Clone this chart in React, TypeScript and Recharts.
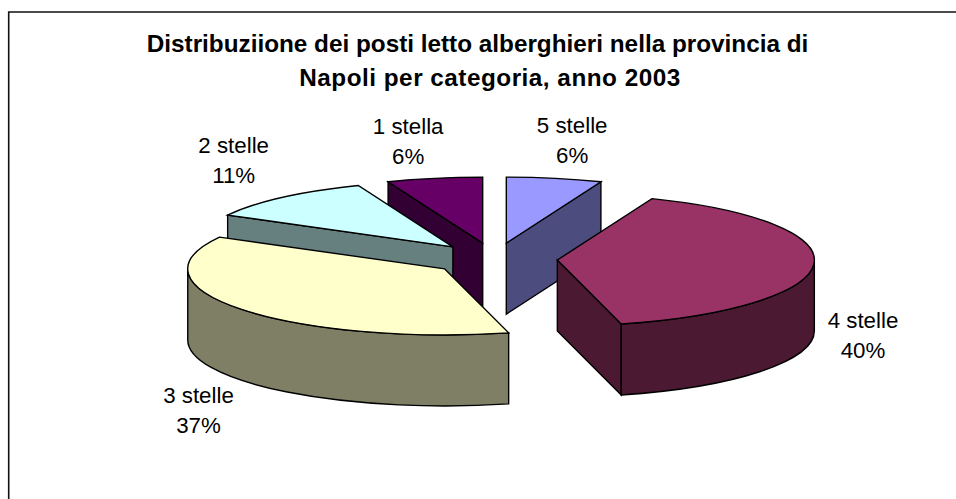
import React from "react";
import { PieChart, Pie } from "recharts";

const categories = ["5 stelle", "1 stella", "2 stelle", "3 stelle", "4 stelle"];
const shares = [6, 6, 11, 37, 40];
const titleLines = [
  "Distribuziione dei posti letto alberghieri nella provincia di",
  "Napoli per categoria, anno 2003",
];

const topColors: Record<string, string> = {
  "5 stelle": "#9999FF",
  "1 stella": "#660066",
  "2 stelle": "#CCFFFF",
  "3 stelle": "#FFFFCC",
  "4 stelle": "#993366",
};
const sideColors: Record<string, string> = {
  "5 stelle": "#4C4C7F",
  "1 stella": "#330033",
  "2 stelle": "#667F7F",
  "3 stelle": "#7F7F66",
  "4 stelle": "#4C1933",
};
// label centre relative to the pie centre
const labelOffsets: Record<string, [number, number]> = {
  "5 stelle": [77.7, -119],
  "1 stella": [-86.3, -118],
  "2 stelle": [-260.8, -99],
  "3 stelle": [-296, 151],
  "4 stelle": [368.5, 76],
};

const tableData = categories.map((name, i) => ({ name, value: shares[i] }));

const FONT = "'Liberation Sans', Arial, sans-serif";
const TILT = 66 / 257;
const EXPLODE = 0.245;
const DEPTH = 71;
const RAD = Math.PI / 180;
const PIE_CX = 494.5;
const PIE_CY = 259;

const Slice3D = (p: any) => {
  const rx: number = p.outerRadius;
  const ry = rx * TILT;
  const name: string = p.name ?? p.payload?.name;
  const span = p.endAngle - p.startAngle;
  const a = (((90 - p.endAngle) % 360) + 360) % 360;
  const b = a + span;
  const mid = (a + b) / 2;
  const ox = p.cx + EXPLODE * rx * Math.sin(mid * RAD);
  const oy = p.cy - EXPLODE * ry * Math.cos(mid * RAD);
  const pt = (t: number, d = 0) =>
    `${ox + rx * Math.sin(t * RAD)} ${oy - ry * Math.cos(t * RAD) + d}`;
  const arc = (t: number, sweep: number, large: number, d = 0) =>
    `A ${rx} ${ry} 0 ${large} ${sweep} ${pt(t, d)}`;
  const apex = `${ox} ${oy}`;
  const apexLow = `${ox} ${oy + DEPTH}`;
  const common = {
    stroke: "#000",
    strokeWidth: 1.4,
    strokeLinejoin: "miter" as const,
  };
  const side = sideColors[name];
  const t1 = Math.max(a, 90);
  const t2 = Math.min(b, 270);
  return (
    <g>
      {Math.sin(a * RAD) < 0 && (
        <path
          d={`M ${apex} L ${pt(a)} L ${pt(a, DEPTH)} L ${apexLow} Z`}
          fill={side}
          {...common}
        />
      )}
      {Math.sin(b * RAD) > 0 && (
        <path
          d={`M ${apex} L ${pt(b)} L ${pt(b, DEPTH)} L ${apexLow} Z`}
          fill={side}
          {...common}
        />
      )}
      {t1 < t2 && (
        <path
          d={`M ${pt(t1)} ${arc(t2, 1, 0)} L ${pt(t2, DEPTH)} ${arc(t1, 0, 0, DEPTH)} Z`}
          fill={side}
          {...common}
        />
      )}
      <path
        d={`M ${apex} L ${pt(a)} ${arc(b, 1, span > 180 ? 1 : 0)} Z`}
        fill={topColors[name]}
        {...common}
      />
    </g>
  );
};

const SliceLabel = (p: any) => {
  const name: string = p.name ?? p.payload?.name;
  const [dx, dy] = labelOffsets[name];
  const x = p.cx + dx;
  const y = p.cy + dy;
  return (
    <g>
      <text x={x} y={y - 7} textAnchor="middle" fontFamily={FONT} fontSize={22.3} fill="#000">
        {name}
      </text>
      <text x={x} y={y + 23} textAnchor="middle" fontFamily={FONT} fontSize={22.3} fill="#000">
        {`${p.value}%`}
      </text>
    </g>
  );
};

export default function App() {
  return (
    <div style={{ position: "absolute", left: 0, top: 0, width: 956, height: 499, overflow: "hidden", background: "#fff" }}>
      <PieChart width={956} height={499} margin={{ top: 0, right: 0, bottom: 0, left: 0 }}>
        <path d="M 8.7 499 L 8.7 12 L 956 12" fill="none" stroke="#111" strokeWidth={1.6} />
        <text x={477.5} y={52} textAnchor="middle" fontFamily={FONT} fontWeight="bold" fontSize={24.3} fill="#000">
          {titleLines[0]}
        </text>
        <text x={490} y={85.5} textAnchor="middle" fontFamily={FONT} fontWeight="bold" fontSize={24.3} letterSpacing={0.5} fill="#000">
          {titleLines[1]}
        </text>
        <Pie
          data={tableData}
          dataKey="value"
          nameKey="name"
          cx={PIE_CX}
          cy={PIE_CY}
          innerRadius={0}
          outerRadius={257}
          startAngle={68.4}
          endAngle={428.4}
          paddingAngle={0}
          isAnimationActive={false}
          shape={Slice3D}
          label={SliceLabel}
          labelLine={false}
        />
      </PieChart>
    </div>
  );
}
